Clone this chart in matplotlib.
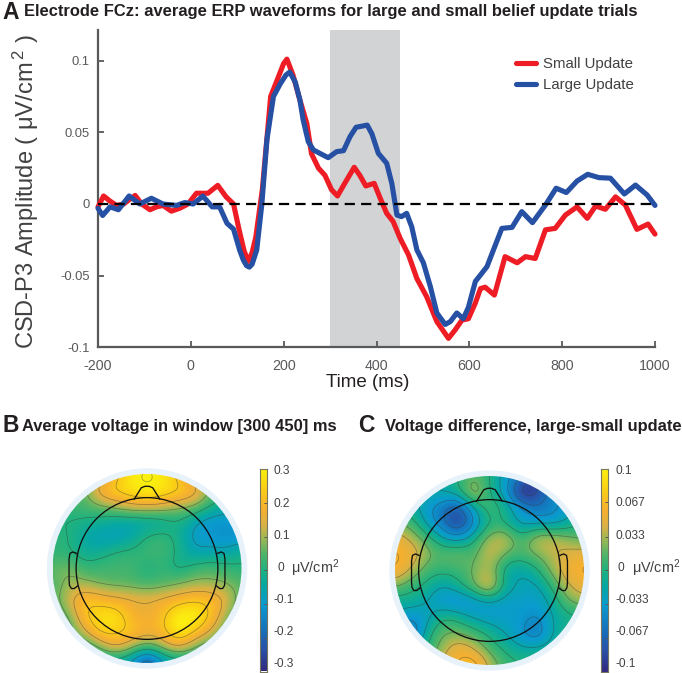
import numpy as np
import matplotlib
matplotlib.use("Agg")
import matplotlib.pyplot as plt
from matplotlib.colors import LinearSegmentedColormap
from matplotlib.patches import Circle

plt.rcParams['font.family'] = ['Liberation Sans', 'DejaVu Sans']
plt.rcParams['mathtext.fontset'] = 'custom'
plt.rcParams['mathtext.rm'] = 'Liberation Sans'
plt.rcParams['mathtext.default'] = 'regular'

# ---------- waveform data ----------
small_t = [-200,-188,-174,-160,-145,-120,-106,-88,-74,-60,-42,-24,-6,12,37,58,76,92,104,115,124,132,140,154,172,183,200,207,220,
           235,250,260,275,289,303,316,329,352,364,377,395,408,422,436,451,469,487,508,530,555,569,584,598,613,624,634,654,
           677,703,721,742,764,785,807,832,854,872,893,915,936,961,985,1000]
small_v = [-.002,.0056,.002,-.001,0,.006,0,-.004,-.002,-.001,-.005,-.003,0,.0075,.0075,.013,.005,0,-.018,-.033,-.040,-.034,-.023,.01,.075,.084,.098,.101,.09,
           .0725,.056,.035,.025,.02,.01,.0056,.013,.0256,.02,.0126,.0144,.004,-.0065,-.0123,-.024,-.0355,-.052,-.0646,-.082,-.0937,-.088,-.081,-.08,-.069,-.059,-.058,-.0635,
           -.0367,-.041,-.0367,-.038,-.018,-.017,-.0077,-.002,-.01,-.0014,-.0037,.005,-.0007,-.0177,-.014,-.021]
large_t = [-200,-190,-174,-156,-133,-110,-85,-60,-31,-13,5,26,46,62,78,92,105,113,120,126,132,142,153,164,178,193,205,213,225,
           235,242,253,264,278,296,314,329,343,356,380,390,404,422,433,444,454,465,476,487,501,516,530,548,559,573,587,598,613,
           624,638,652,670,692,713,736,764,787,809,832,855,879,904,934,958,983,1000]
large_v = [-.003,-.008,-.002,-.004,.0056,0,.004,0,-.001,.001,0,.0055,-.002,-.002,-.0135,-.0175,-.032,-.039,-.043,-.044,-.042,-.032,0,.045,.075,.084,.09,.092,.085,
           .0725,.0586,.0435,.0377,.0353,.0323,.0365,.0372,.047,.0535,.055,.049,.0353,.0284,.0144,-.0077,-.0088,-.0065,-.016,-.032,-.041,-.0576,-.076,-.084,-.082,-.076,-.08,-.072,-.054,
           -.0495,-.0437,-.032,-.017,-.0163,-.0053,-.013,-.0007,.011,.008,.016,.0207,.0184,.018,.007,.0132,.0063,-.001]
x_ticks = [-200,0,200,400,600,800,1000]
x_tick_labels = ['-200','0','200','400','600','800','1000']
y_ticks = [-0.1,-0.05,0,0.05,0.1]
y_tick_labels = ['-0.1','-0.05','0','0.05','0.1']
window = [300,450]

# ---------- scalp map data (rows top to bottom, columns left to right) ----------
map_b = np.array([
 [.05,.05,.05,.11,.20,.28,.30,.28,.20,.11,.05,.00,-.05],
 [.00,.03,.06,.16,.22,.26,.28,.26,.22,.16,.07,.00,-.05],
 [.00,.02,.04,.07,.10,.13,.14,.13,.10,.07,.00,-.04,-.07],
 [.00,.00,-.01,-.02,-.03,-.03,-.02,-.01,.00,-.05,-.09,-.10,-.10],
 [.01,.00,-.04,-.06,-.06,-.04,.00,.01,-.02,-.08,-.10,-.11,-.10],
 [.02,.01,-.02,-.02,.00,.01,.02,.02,-.01,-.05,-.05,-.05,-.03],
 [.05,.06,.03,.03,.03,.03,.01,.02,.00,.02,.03,.02,.01],
 [.05,.09,.10,.08,.07,.06,.05,.06,.08,.10,.10,.08,.05],
 [.05,.12,.19,.19,.17,.15,.14,.16,.19,.21,.19,.13,.05],
 [.03,.08,.20,.25,.25,.19,.17,.21,.28,.28,.21,.10,.03],
 [.01,.04,.13,.22,.23,.20,.17,.20,.27,.22,.14,.05,.01],
 [.00,.01,.02,.08,.13,.08,.03,.08,.13,.08,.03,.01,.00],
 [-.02,-.02,-.02,-.02,-.03,-.08,-.17,-.08,-.03,-.02,-.02,-.02,-.02]])
map_c = np.array([
 [-.02,-.02,-.02,-.02,.00,.015,.00,-.03,-.06,-.08,-.07,-.05,-.03],
 [-.01,-.01,-.02,-.02,-.01,.022,.00,-.03,-.08,-.08,-.05,-.04,-.03],
 [.00,-.01,-.03,-.05,-.06,-.02,.005,-.01,-.04,-.055,-.045,-.03,-.02],
 [.02,.01,-.02,-.05,-.07,-.035,.00,.00,-.02,-.02,-.02,-.01,.00],
 [.05,.035,.01,-.015,-.025,-.005,.025,.03,.01,.025,.03,.025,.02],
 [.06,.05,.025,.012,.015,.015,.035,.018,.01,.02,.035,.045,.05],
 [.055,.035,.012,.005,.008,.022,.03,-.002,-.014,-.002,.025,.05,.06],
 [.02,.008,-.005,-.018,-.008,.012,.03,-.008,-.022,-.02,.005,.035,.05],
 [-.01,-.012,-.02,-.03,-.033,-.027,-.02,-.027,-.03,-.03,-.012,.015,.025],
 [-.03,-.035,-.025,-.005,-.008,-.02,-.027,-.03,-.034,-.04,-.02,-.005,.00],
 [-.04,-.05,-.012,.015,.02,.01,-.005,-.02,-.034,-.045,-.02,-.005,.00],
 [-.02,-.02,.00,.03,.05,.04,.015,-.003,-.015,-.015,-.01,-.005,.00],
 [-.01,-.01,.01,.04,.06,.065,.035,.01,.00,-.005,-.005,.00,.00]])
b_ticks = [0.3,0.2,0.1,0,-0.1,-0.2,-0.3]
b_labels = ['0.3','0.2','0.1','0','-0.1','-0.2','-0.3']
c_ticks = [0.1,0.067,0.033,0,-0.033,-0.067,-0.1]
c_labels = ['0.1','0.067','0.033','0','-0.033','-0.067','-0.1']

W, H = 682, 673
fig = plt.figure(figsize=(W/100, H/100), dpi=100, facecolor='white')

def axpx(x0, y0, x1, y1, **kw):
    return fig.add_axes([x0/W, 1-y1/H, (x1-x0)/W, (y1-y0)/H], **kw)

def txt(x, y, s, **kw):
    kw.setdefault('va', 'baseline')
    kw.setdefault('color', '#231f20')
    return fig.text(x/W, 1-y/H, s, **kw)

GREY = '#58595b'
# ---------- panel A ----------
ax = axpx(98, 30, 655, 347.4)
ax.set_xlim(-200, 1000)
ax.set_ylim(-0.1, (204-30)/1434)
ax.axvspan(window[0], window[1], color='#d1d3d4', lw=0, zorder=0)
ax.plot(small_t, small_v, color='#ee1c25', lw=3.7, solid_joinstyle='round', solid_capstyle='round', clip_on=False, label='Small Update', zorder=3)
ax.plot(large_t, large_v, color='#2650a4', lw=3.7, solid_joinstyle='round', solid_capstyle='round', clip_on=False, label='Large Update', zorder=4)
ax.plot([-200, 1000], [0, 0], color='black', lw=1.6, dashes=(4.6, 2.8), dash_capstyle='butt', zorder=5)
for s in ('top', 'right'):
    ax.spines[s].set_visible(False)
for s in ('left', 'bottom'):
    ax.spines[s].set_color(GREY)
    ax.spines[s].set_linewidth(1.6)
ax.set_xticks(x_ticks)
ax.set_xticklabels(x_tick_labels)
ax.set_yticks(y_ticks)
ax.set_yticklabels(y_tick_labels)
ax.tick_params(direction='in', length=4, width=1.3, color=GREY, labelcolor=GREY)
ax.tick_params(axis='x', labelsize=10.3, pad=8)
ax.tick_params(axis='y', labelsize=9.4, pad=6)
leg = ax.legend(loc='upper left', bbox_to_anchor=((516-98)/557, 1-(57-30)/317.4), frameon=False,
                fontsize=10.8, handlelength=1.3, handletextpad=0.5, labelspacing=0.45, borderpad=0, borderaxespad=0)
for t in leg.get_texts():
    t.set_color('#414042')
txt(368, 387, 'Time (ms)', fontsize=13.5, ha='center')
txt(26, 192, 'CSD-P3 Amplitude ( \u03bcV/cm$^{\\,2}$ )', fontsize=17, rotation=90, ha='center', va='center', rotation_mode='anchor', color='#414042')
txt(2, 19, 'A', fontsize=16.5, fontweight='bold')
txt(24, 16, 'Electrode FCz: average ERP waveforms for large and small belief update trials', fontsize=11.85, fontweight='bold')

# ---------- scalp maps ----------
cmap = LinearSegmentedColormap.from_list('parula_like', [
    (0.00, '#33297f'), (0.10, '#2a4fa6'), (0.20, '#1670bb'), (0.33, '#0a9bcf'), (0.42, '#06a8a4'),
    (0.50, '#1fb27f'), (0.58, '#52b568'), (0.65, '#98b955'), (0.72, '#dbb244'), (0.80, '#f6b02f'),
    (0.90, '#fbcf15'), (1.00, '#fbf00f')])

F = 10
def upsample(z, f=F, passes=2, width=11):
    n = z.shape[0]
    src = np.arange(n)
    dst = np.linspace(0, n-1, (n-1)*f+1)
    u = np.array([np.interp(dst, src, r) for r in z])
    u = np.array([np.interp(dst, src, c) for c in u.T]).T
    k = np.ones(width)/width
    pad = width
    for _ in range(passes):
        p = np.pad(u, pad, mode='edge')
        p = np.apply_along_axis(lambda m: np.convolve(m, k, mode='same'), 0, p)
        p = np.apply_along_axis(lambda m: np.convolve(m, k, mode='same'), 1, p)
        u = p[pad:-pad, pad:-pad]
    return u

def fit_surface(z):
    # keep the smoothed surface passing through the values
    pre = z.copy()
    for _ in range(4):
        pre = pre + (z - upsample(pre)[::F, ::F])
    return upsample(pre)

NOSE = ([-.135, -.06, -.02, .02, .06, .135], [.735, .855, .87, .87, .855, .735])
EAR_X = [.745, .785, .815, .825, .825, .82, .80, .77, .735]
EAR_Y = [.16, .175, .16, .10, -.12, -.18, -.212, -.212, -.185]

def scalp(cx, cy, z, vmax, nlev):
    R = 94.5
    lim = 1.1
    a = axpx(cx-R*lim, cy-R*lim, cx+R*lim, cy+R*lim)
    a.set_xlim(-lim, lim)
    a.set_ylim(-lim, lim)
    a.axis('off')
    a.add_patch(Circle((0, 0), 1.06, fc='#e8f2fa', ec='none', zorder=0))
    u = fit_surface(z)
    disc = Circle((0, 0), 1.0, transform=a.transData, fc='none', ec='none')
    a.add_patch(disc)
    im = a.imshow(u, extent=(-1, 1, -1, 1), origin='upper', cmap=cmap, vmin=-vmax, vmax=vmax,
                  interpolation='bilinear', zorder=1)
    im.set_clip_path(disc)
    gx = np.linspace(-1, 1, u.shape[1])
    gy = np.linspace(1, -1, u.shape[0])
    cs = a.contour(gx, gy, u, levels=np.linspace(-vmax, vmax, nlev), colors='#3a3a32', linewidths=0.5,
                   linestyles='solid', alpha=0.5, zorder=2)
    cs.set_clip_path(disc)
    a.add_patch(Circle((0, 0), 0.75, fc='none', ec='#111111', lw=0.95, zorder=3))
    a.plot(NOSE[0], NOSE[1], color='#111111', lw=0.95, zorder=3)
    for sgn in (-1, 1):
        a.plot(sgn*np.array(EAR_X), EAR_Y, color='#111111', lw=0.95, zorder=3)

def cbar(x0, x1, vmax, ticks, labels, xlab, xzero, xunit):
    c = axpx(x0, 469, x1, 671.5)
    c.imshow(np.linspace(1, 0, 256)[:, None], extent=(0, 1, -vmax, vmax), aspect='auto', cmap=cmap, vmin=0, vmax=1)
    c.set_xticks([])
    c.yaxis.tick_right()
    c.set_yticks(ticks)
    c.set_yticklabels([])
    c.tick_params(axis='y', direction='in', length=2, width=0.7, color='#555555')
    for s in c.spines.values():
        s.set_color('#77775f')
        s.set_linewidth(0.8)
    for v, l in zip(ticks, labels):
        xp = xzero if l == '0' else xlab
        y_px = 567.8 - v/vmax*96.3
        txt(xp, y_px, l, fontsize=8.6, va='center', color='#414042')
    txt(xunit, 568, '\u03bcV/cm$^{2}$', fontsize=10.4, va='center', color='#414042')

scalp(147, 568.5, map_b, 0.3, 9)
cbar(259.5, 267, 0.3, b_ticks, b_labels, 273.5, 277, 291)
scalp(489.5, 570.5, map_c, 0.1, 11)
cbar(600.7, 608, 0.1, c_ticks, c_labels, 615, 618, 632)

txt(2, 432, 'B', fontsize=16.5, fontweight='bold')
txt(22, 431, 'Average voltage in window [300 450] ms', fontsize=11.85, fontweight='bold')
txt(358, 432, 'C', fontsize=16.5, fontweight='bold')
txt(385, 431, 'Voltage difference, large-small update', fontsize=11.85, fontweight='bold')

fig.savefig('out.png', dpi=100)
